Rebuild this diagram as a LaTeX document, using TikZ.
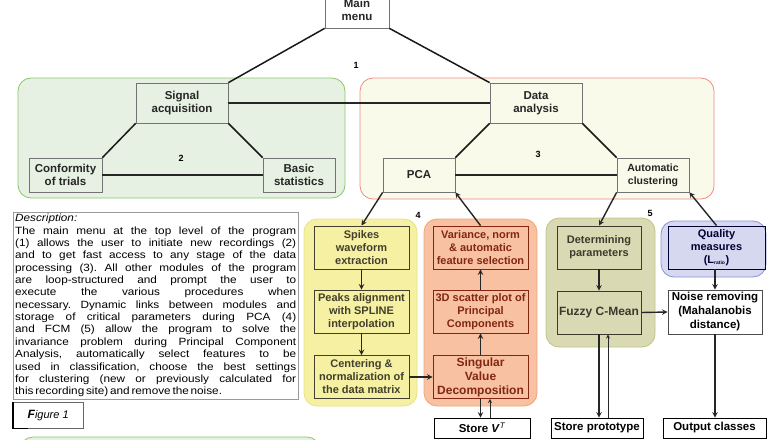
\documentclass[tikz,border=0pt]{standalone}
\usepackage{fontspec}
\setmainfont{Liberation Sans}
\newfontfamily\descfont[FakeStretch=1.12, WordSpace={0.55,0.6,0.4}]{Liberation Sans}
\usetikzlibrary{positioning}
\usetikzlibrary{calc}
\usetikzlibrary{arrows}
\definecolor{acqfill}{HTML}{E6F0E3}
\definecolor{acqline}{HTML}{86C868}
\definecolor{anafill}{HTML}{FAFAEA}
\definecolor{analine}{HTML}{F08A84}
\definecolor{pcafill}{HTML}{F5F0A2}
\definecolor{pcaline}{HTML}{E8E284}
\definecolor{svdfill}{HTML}{F8C2A2}
\definecolor{svdline}{HTML}{F0A478}
\definecolor{fcmfill}{HTML}{D9DAB4}
\definecolor{fcmline}{HTML}{C2C380}
\definecolor{qualfill}{HTML}{D6D8F0}
\definecolor{qualline}{HTML}{8A92D8}
\tikzset{
    % This seems a reasonably comfortable arrow shape
    >=stealth,
%
    % Coloured rounded background behind a group of modules
    module area/.style={rounded corners=13pt, line width=0.8pt},
%
    % Gray box of the menu tree
    menu box/.style={
        draw=black!55, line width=0.7pt, align=center, inner sep=1pt,
        font=\fontsize{11.5}{13}\selectfont\bfseries, text=black!85},
%
    % Box of a single processing step
    step box/.style={
        draw=#1, line width=0.9pt, align=center, inner sep=1pt,
        minimum height=43pt, font=\fontsize{11}{13}\selectfont\bfseries, text=#1},
%
    % White box at the bottom edge
    store box/.style={
        draw=black, line width=0.8pt, fill=white, inner sep=1pt,
        minimum height=20pt, font=\fontsize{11.5}{13}\selectfont\bfseries},
%
    % Links between menu levels
    tree line/.style={line width=1.5pt, black!90},
    level line/.style={line width=2.4pt, black!85},
    flow/.style={->, line width=1.4pt, black!85},
    back flow/.style={->, line width=0.8pt, black!85},
    area number/.style={font=\fontsize{9}{10}\selectfont\bfseries}}

\begin{document}
\begin{tikzpicture}[x=1pt, y=-1pt]

\useasboundingbox (0,0) rectangle (767,439);

% Module areas

\path [module area, fill=acqfill, draw=acqline] (18,78) rectangle (345,198);
\path [module area, fill=anafill, draw=analine] (360,78) rectangle (714,199);
\path [module area, fill=pcafill, draw=pcaline] (304,219) rectangle (417,406);
\path [module area, fill=svdfill, draw=svdline] (424,219) rectangle (537,406);
\path [module area, fill=fcmfill, draw=fcmline] (546,218) rectangle (655,347);
\path [module area, fill=qualfill, draw=qualline] (661,221) rectangle (766,277);
\path [module area, fill=acqfill, draw=acqline] (20,437) rectangle (320,470);

% Menu tree

\node [menu box, fill=white, minimum width=64pt, minimum height=36pt]
    (menu) at (357,10) {Main\\menu};

\node [menu box, minimum width=92pt, minimum height=40pt]
    (acquisition) at (182,103) {Signal\\acquisition};
\node [menu box, minimum width=73pt, minimum height=34pt]
    (conformity) at (65.5,175) {Conformity\\of trials};
\node [menu box, minimum width=72pt, minimum height=34pt]
    (statistics) at (299,175) {Basic\\statistics};

\node [menu box, minimum width=92pt, minimum height=40pt]
    (analysis) at (536,103) {Data\\analysis};
\node [menu box, minimum width=72pt, minimum height=34pt]
    (pca) at (419,175) {PCA};
\node [menu box, minimum width=72pt, minimum height=34pt,
    font=\fontsize{10.5}{13}\selectfont\bfseries]
    (clustering) at (653,175) {Automatic\\clustering};

\node [area number] (one) at (356,65) {1};
\node [area number] (two) at (181,158) {2};
\node [area number] (three) at (538,154) {3};
\node [area number] (four) at (418,215) {4};
\node [area number] (five) at (650,213) {5};

\draw [tree line] (menu.south west) -- (acquisition.north east);
\draw [tree line] (menu.south east) -- (analysis.north west);
\draw [tree line] (acquisition.south west) -- (conformity.north east);
\draw [tree line] (acquisition.south east) -- (statistics.north west);
\draw [level line] (conformity.east) -- (statistics.west);
\draw [level line] (acquisition.east) -- (analysis.west);
\draw [tree line] (analysis.south west) -- (pca.north east);
\draw [tree line] (analysis.south east) -- (clustering.north west);
\draw [level line] (pca.east) -- (clustering.west);

% PCA steps

\node [step box=black!70!olive, minimum width=95pt]
    (spikes) at (361.5,247.5) {Spikes\\waveform\\extraction};
\node [step box=black!70!olive, minimum width=95pt]
    (peaks) at (361.5,311.5) {Peaks alignment\\with SPLINE\\interpolation};
\node [step box=black!70!olive, minimum width=95pt]
    (centering) at (361.5,377) {Centering \&\\normalization of\\the data matrix};

\node [step box=black!60!red!70!brown, minimum width=95pt]
    (variance) at (480.5,247.5) {Variance, norm\\\& automatic\\feature selection};
\node [step box=black!60!red!70!brown, minimum width=95pt]
    (scatter) at (480.5,311.5) {3D scatter plot of\\Principal\\Components};
\node [step box=black!60!red!70!brown, minimum width=95pt,
    font=\fontsize{12}{14}\selectfont\bfseries]
    (svd) at (480.5,377) {Singular\\Value\\Decomposition};

\node [store box, minimum width=96pt] (storev) at (482,428) {Store \textit{V}$^{\mathit{T}}$};

% FCM steps

\node [step box=black!75!olive, minimum width=84pt]
    (determining) at (599,247.5) {Determining\\parameters};
\node [step box=black!75!olive, minimum width=84pt,
    font=\fontsize{12}{14}\selectfont\bfseries]
    (fcm) at (599,312.5) {Fuzzy C-Mean};
\node [step box=black!80!blue, minimum width=97pt]
    (quality) at (716.5,247.5) {Quality\\measures\\(L\textsubscript{\tiny ratio})};
\node [step box=black, draw=black!70, fill=white, minimum width=94pt, minimum height=44pt,
    font=\fontsize{11.5}{14}\selectfont\bfseries]
    (noise) at (715,312) {Noise removing\\(Mahalanobis\\distance)};

\node [store box, minimum width=92pt] (storep) at (597,428) {Store prototype};
\node [store box, minimum width=103pt] (output) at (714.5,428) {Output classes};

\draw [flow] (pca.south west) -- (spikes.north);
\draw [flow] (variance.north) -- (pca.south east);
\draw [flow] (spikes) -- (peaks);
\draw [flow] (peaks) -- (centering);
\draw [flow] (centering.east) -- (svd.west);
\draw [flow] (svd) -- (scatter);
\draw [flow] (scatter) -- (variance);
\draw [flow] (svd.south) -- (svd.south |- storev.north);
\draw [back flow] ([xshift=9.5pt]svd.south |- storev.north) -- ([xshift=9.5pt]svd.south);

\draw [flow] (clustering.south west) -- (determining.north);
\draw [flow] (quality.north) -- (clustering.south east);
\draw [flow] (determining) -- (fcm);
\draw [flow] (fcm.east) -- (noise.west);
\draw [flow] (quality.south -| noise.north) -- (noise.north);
\draw [flow] (noise.south) -- (noise.south |- output.north);
\draw [flow] (fcm.south) -- (fcm.south |- storep.north);
\draw [back flow] ([xshift=9pt]fcm.south |- storep.north) -- ([xshift=9pt]fcm.south);

% Description

\node [draw=black!40, fill=white, anchor=north west, text width=281pt,
    inner sep=2pt, align=justify, font=\descfont\fontsize{10.5}{12.35}\selectfont\frenchspacing]
    (description) at (13,212) {%
\textit{Description:}\\
The main menu at the top level of the program\linebreak
(1) allows the user to initiate new recordings (2)\linebreak
and to get fast access to any stage of the data\linebreak
processing (3). All other modules of the program\linebreak
are loop-structured and prompt the user to\linebreak
execute the various procedures when\linebreak
necessary. Dynamic links between modules and\linebreak
storage of critical parameters during PCA (4)\linebreak
and FCM (5) allow the program to solve the\linebreak
invariance problem during Principal Component\linebreak
Analysis, automatically select features to be\linebreak
used in classification, choose the best settings\linebreak
for clustering (new or previously calculated for\linebreak
this recording site) and remove the noise.};

\node [draw=black!60, anchor=north west, minimum width=70pt, minimum height=26pt,
    inner sep=1pt, font=\fontsize{11}{13}\selectfont\itshape]
    (figure) at (13,402) {\textbf{\large F}igure 1};
\draw [line width=1.6pt] (figure.north west) -- (figure.south west) -- ([xshift=15pt]figure.south west);

\end{tikzpicture}
\end{document}
